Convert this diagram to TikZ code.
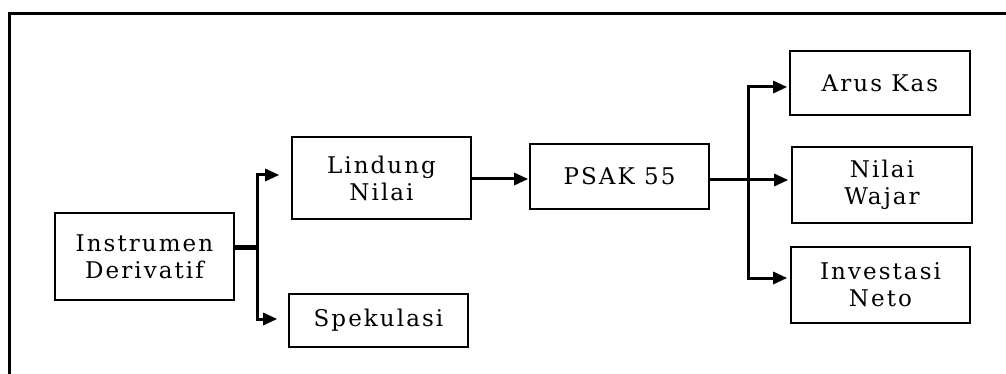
\documentclass[tikz,border=0pt]{standalone}
\usepackage{fontspec}
\setmainfont{DejaVu Serif}[LetterSpace=9]
\usetikzlibrary{arrows.meta}
\begin{document}
\begin{tikzpicture}[x=1pt,y=-1pt,
  box/.style={draw, line width=1.6pt, inner sep=0pt, align=center,
    font=\fontsize{23}{27}\selectfont},
  arr/.style={line width=3pt, -{Triangle[length=14pt,width=12pt]}},
]
\useasboundingbox (0,0) rectangle (1006,374);
% outer frame: top and left sides only
\draw[line width=2.8pt] (9.7,374) -- (9.7,13.5) -- (1006,13.5);

% boxes
\node[box, minimum width=179pt, minimum height=87pt] (inst) at (144.5,256.5) {Instrumen\\Derivatif};
\node[box, minimum width=179pt, minimum height=82pt] (lind) at (381.5,178) {Lindung\\Nilai};
\node[box, minimum width=179pt, minimum height=53pt] (spek) at (378.5,320.5) {Spekulasi};
\node[box, minimum width=179pt, minimum height=65pt] (psak) at (619.5,176.5) {PSAK 55};
\node[box, minimum width=180pt, minimum height=64pt] (arus) at (880,83) {Arus Kas};
\node[box, minimum width=180pt, minimum height=76pt] (wajar) at (882,185) {Nilai\\Wajar};
\node[box, minimum width=179pt, minimum height=76pt] (inv) at (880.5,285) {Investasi\\Neto};

% branching from Instrumen Derivatif
\coordinate (j1) at (257,247);
\draw[line width=5pt] ([yshift=9.5pt]inst.east) -- (j1);
\draw[arr, shorten >=12pt] ([yshift=-1.5pt]j1) |- ([yshift=3pt]lind.west);
\draw[arr, shorten >=11pt] ([yshift=1.5pt]j1) |- ([yshift=1.5pt]spek.west);

% Lindung Nilai to PSAK 55
\draw[arr, shorten >=1pt] ([yshift=-1pt]lind.east) -- ([yshift=-1pt]lind.east -| psak.west);

% branching from PSAK 55
\coordinate (j2) at (748,180);
\draw[arr, shorten >=3pt] ([yshift=-3.5pt]psak.east) -- (j2 -| wajar.west);
\draw[arr, shorten >=2pt] (j2) |- ([yshift=-4pt]arus.west);
\draw[arr, shorten >=3pt] (j2) |- ([yshift=7pt]inv.west);
\end{tikzpicture}
\end{document}
